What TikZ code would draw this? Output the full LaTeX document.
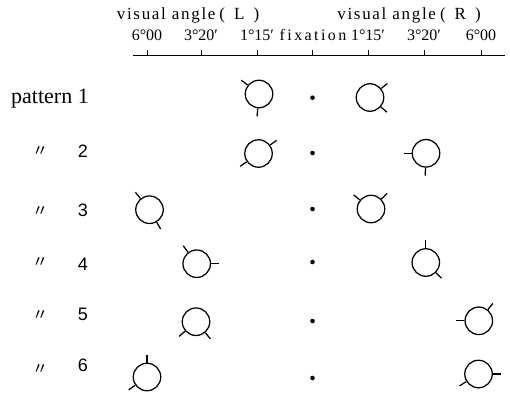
\documentclass[tikz,border=0pt]{standalone}
\usepackage{fontspec}
\setmainfont{Liberation Serif}
\newfontfamily\hdrfont[LetterSpace=10]{Liberation Serif}
\newfontfamily\fixfont[LetterSpace=15]{Liberation Serif}
\newfontfamily\sansdig{Liberation Sans}
\newfontfamily\cjkfont{Noto Sans CJK JP}
\newcommand\eyemark[5]{%
  \node[eye] (#1) at (#2,#3) {};
  \draw[tickline] (#1.#4) -- ++(#4:8bp);
  \draw[tickline] (#1.#5) -- ++(#5:8bp);}
\newcommand\sidelab[1]{visual angle\hspace{4bp}(\hspace{9bp}#1\hspace{9bp})}
\begin{document}
\begin{tikzpicture}[x=1bp,y=1bp,
  eye/.style={circle,draw,line width=1.25bp,minimum size=27.5bp,inner sep=0pt},
  tickline/.style={line width=1.25bp},
  fixdot/.style={circle,fill,inner sep=0pt,minimum size=4.6bp},
  hdr/.style={font=\hdrfont\fontsize{17bp}{20bp}\selectfont,anchor=base,inner sep=0pt},
  ang/.style={font=\fontsize{16bp}{19bp}\selectfont,anchor=base,inner sep=0pt},
  rowlab/.style={font=\fontsize{22bp}{26bp}\selectfont,inner sep=0pt},
  rownum/.style={font=\sansdig\fontsize{18bp}{22bp}\selectfont,inner sep=0pt,anchor=base east},
  ditto/.style={font=\cjkfont\fontsize{16bp}{18bp}\selectfont,inner sep=0pt}]
\useasboundingbox (0,0) rectangle (510,392);
% axis
\coordinate (axL) at (133,337);
\coordinate (axR) at (505,337);
\draw[line width=0.8bp] (axL) -- (axR);
\foreach \x in {147,201,257,312,368,424,481}{
  \draw[line width=0.8bp] (\x,337) -- (\x,342);}
% headers
\node[hdr] (hl) at (188,373) {\sidelab{L}};
\node[hdr] (hr) at (409,373) {\sidelab{R}};
\node[ang] (a1) at (147,352) {6°00};
\node[ang] (a2) at (201,352) {3°20′};
\node[ang] (a3) at (257,352) {1°15′};
\node[ang,font=\fixfont\fontsize{16bp}{19bp}\selectfont] (a4) at (313,352) {fixation};
\node[ang] (a5) at (368,352) {1°15′};
\node[ang] (a6) at (424,352) {3°20′};
\node[ang] (a7) at (481,352) {6°00};
% row labels
\node[rowlab,anchor=base west] (p1) at (11,289) {pattern 1};
\node[rownum] (n2) at (88,234.7) {2};
\node[rownum] (n3) at (88,175.3) {3};
\node[rownum] (n4) at (88,122) {4};
\node[rownum] (n5) at (88,71.3) {5};
\node[rownum] (n6) at (88,20.3) {6};
\node[ditto] (d2) at (40,240.5) {〃};
\node[ditto] (d3) at (40,180.5) {〃};
\node[ditto] (d4) at (40,129.5) {〃};
\node[ditto] (d5) at (40,76.5) {〃};
\node[ditto] (d6) at (40,22.5) {〃};
% fixation dots
\node[fixdot] (f1) at (312.5,294.3) {};
\node[fixdot] (f2) at (312.5,239) {};
\node[fixdot] (f3) at (312.5,183) {};
\node[fixdot] (f4) at (312.5,130) {};
\node[fixdot] (f5) at (312.5,71) {};
\node[fixdot] (f6) at (312.5,14) {};
% stimuli
\eyemark{r1l}{259}{298}{142}{265}
\eyemark{r1r}{370}{294.5}{39}{319}
\eyemark{r2l}{258.5}{238.5}{36}{215}
\eyemark{r2r}{426}{238.7}{180}{268}
\eyemark{r3l}{149.5}{182.3}{129}{300}
\eyemark{r3r}{371}{183}{141}{44}
\eyemark{r4l}{196.7}{128.3}{127}{0}
\eyemark{r4r}{425.8}{129.5}{90}{315}
\eyemark{r5l}{196}{70.3}{221}{310}
\eyemark{r5r}{478.8}{71.2}{180}{51}
\eyemark{r6l}{147}{15}{90}{215}
\eyemark{r6r}{478.5}{18}{0}{212}
\end{tikzpicture}
\end{document}
